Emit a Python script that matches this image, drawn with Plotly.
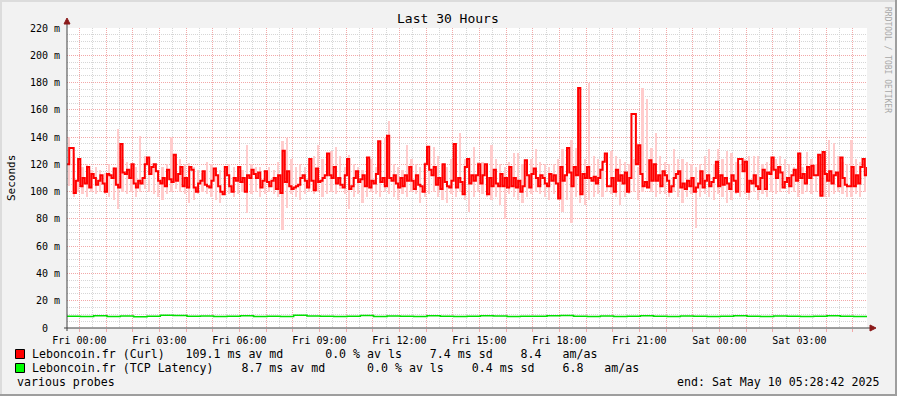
import plotly.graph_objects as go
import pandas as pd

# ---------------- data ----------------
title_text = "Last 30 Hours"
y_axis_title = "Seconds"
range_start = pd.Timestamp("2025-05-08 23:32:00")
range_end = pd.Timestamp("2025-05-10 05:32:00")
median_step_min = 5      # one median value every 5 minutes
smoke_step_min = 10      # one smoke (min/max) bar every 10 minutes
tcp_step_min = 30        # one TCP latency value every 30 minutes

# Leboncoin.fr (Curl) median, ms
curl_median = [
    120,132,132,99,108,124,104,110,106,118,103,113,110,105,108,112,106,100,113,112,
    110,117,105,103,135,114,113,116,110,120,106,103,108,106,110,120,125,113,118,120,
    115,108,106,110,104,116,109,107,127,108,113,118,104,110,103,118,116,103,100,106,108,
    115,105,104,103,108,117,112,104,100,98,118,112,104,100,110,108,118,107,110,100,
    112,110,116,113,110,114,103,108,115,107,104,108,110,102,112,99,130,107,115,104,
    102,103,104,105,110,112,108,103,124,108,101,117,107,108,110,112,128,112,110,118,106,
    110,105,103,112,124,102,104,110,115,107,109,112,104,125,103,108,106,113,137,107,
    110,104,141,110,108,112,106,103,110,104,112,108,118,108,102,112,105,104,100,120,
    133,116,112,118,105,110,102,120,107,104,103,108,135,103,110,107,98,118,124,106,112,
    108,112,120,106,112,120,98,110,104,116,106,104,113,104,110,103,118,104,110,103,
    108,100,104,123,112,103,113,117,110,104,112,110,106,104,113,108,112,106,95,118,
    108,112,132,114,104,118,112,176,98,113,110,118,110,108,111,106,110,116,122,128,104,
    104,110,100,116,108,112,106,114,100,110,157,157,120,134,113,104,107,103,123,108,
    120,108,112,104,115,112,108,100,104,110,113,115,103,106,102,108,104,110,100,103,
    106,115,103,108,112,104,107,110,122,104,112,105,110,106,102,112,108,100,124,124,115,
    122,100,108,106,112,104,102,110,116,102,114,113,125,116,110,118,114,103,107,110,
    104,112,116,108,128,110,113,106,118,110,119,112,112,127,97,129,113,108,115,106,
    112,114,104,125,110,105,104,104,118,104,112,106,118,124,112,118,
]

# smoke band (min / max of the pings), ms, one pair per 10 minutes
smoke_hi = [
    140,128,124,118,120,116,118,116,114,120,118,146,124,122,116,118,141,126,124,118,116,118,120,140,122,124,120,121,118,116,114,
    122,120,118,116,118,120,118,118,116,134,120,118,118,116,118,116,122,137,139,124,118,120,118,120,126,134,124,128,130,133,126,
    118,127,120,118,116,120,124,118,120,139,152,120,118,116,134,124,120,118,122,124,133,126,120,118,124,122,143,124,120,133,122,
    122,118,134,124,120,118,122,128,128,120,118,124,131,122,120,118,120,124,131,126,138,132,143,124,180,126,124,122,124,130,126,
    124,122,120,124,118,176,168,132,143,126,122,120,131,124,124,122,120,118,120,126,131,120,131,124,130,128,122,120,124,126,126,
    126,120,122,118,124,126,124,120,118,122,118,129,124,120,122,124,138,136,126,122,120,138,124,122,120,131,126,122,
]
smoke_lo = [
    104,96,100,98,96,100,98,100,98,96,94,87,100,98,100,96,100,102,100,98,96,94,98,100,102,100,98,92,94,98,100,
    98,96,94,92,100,98,96,98,100,84,98,100,96,98,100,98,96,72,88,98,96,94,98,100,98,100,96,98,100,98,102,
    98,87,96,98,92,96,100,98,96,100,98,96,94,98,96,100,98,92,96,98,100,96,94,92,98,96,100,94,85,96,100,
    98,96,94,96,90,80,98,96,94,92,96,98,100,98,96,94,98,96,85,94,77,96,92,90,94,96,98,96,100,98,96,
    90,96,98,100,94,100,104,100,96,98,98,96,100,96,92,96,98,73,96,98,96,94,98,96,92,94,98,96,98,94,100,
    94,98,96,100,98,100,102,98,100,96,98,100,98,100,98,96,96,98,100,98,96,96,98,96,100,98,102,104,
]

# Leboncoin.fr (TCP Latency), ms, one value per 30 minutes
tcp_latency = [
    8.6,8.4,9.0,8.5,8.8,8.3,8.7,9.4,9.2,8.6,8.8,8.5,8.6,8.9,8.4,8.7,8.5,9.3,8.8,8.6,
    8.4,8.7,9.1,8.5,8.8,8.6,8.5,8.9,8.7,8.4,8.6,9.0,8.8,8.5,8.7,8.6,8.9,9.2,8.6,8.5,
    8.8,8.4,8.7,8.9,8.6,8.5,8.8,8.7,8.4,8.6,8.9,8.7,8.5,8.8,8.6,8.4,8.7,8.9,8.6,8.5,8.7,
]

y_tick_values = [0, 20, 40, 60, 80, 100, 120, 140, 160, 180, 200, 220]
y_tick_labels = ["0\u00a0\u00a0", "20 m", "40 m", "60 m", "80 m", "100 m", "120 m",
                 "140 m", "160 m", "180 m", "200 m", "220 m"]
x_tick_labels = {
    "2025-05-09 00:00": "Fri 00:00", "2025-05-09 03:00": "Fri 03:00",
    "2025-05-09 06:00": "Fri 06:00", "2025-05-09 09:00": "Fri 09:00",
    "2025-05-09 12:00": "Fri 12:00", "2025-05-09 15:00": "Fri 15:00",
    "2025-05-09 18:00": "Fri 18:00", "2025-05-09 21:00": "Fri 21:00",
    "2025-05-10 00:00": "Sat 00:00", "2025-05-10 03:00": "Sat 03:00",
}

legend_rows = [
    ("#FF0000", ["Leboncoin.fr (Curl)", "109.1 ms av md", "0.0 % av ls", "7.4 ms sd", "8.4", "am/as"], [3, 6, 4, 4, 3]),
    ("#00FF00", ["Leboncoin.fr (TCP Latency)", "8.7 ms av md", "0.0 % av ls", "0.4 ms sd", "6.8", "am/as"], [4, 6, 4, 4, 3]),
]
footer_left = "various probes"
footer_right = "end: Sat May 10 05:28:42 2025"
watermark = "RRDTOOL / TOBI OETIKER"

# ---------------- layout constants ----------------
W, H = 897, 396
PL, PR, PT, PB = 67, 867, 28, 328
FONT = "DejaVu Sans Mono"
MAJOR_GRID = "#F2A8A8"
MINOR_GRID = "#D6D6D6"
BG = "#F2F2F2"


def px(x):
    return (x - PL) / (PR - PL)


def py(y):
    return (PB - y) / (PB - PT)


median_x = [range_start + pd.Timedelta(minutes=median_step_min * i) for i in range(len(curl_median))]
smoke_x = [range_start + pd.Timedelta(minutes=smoke_step_min * i + smoke_step_min / 2) for i in range(len(smoke_hi))]
tcp_x = [range_start + pd.Timedelta(minutes=tcp_step_min * i) for i in range(len(tcp_latency))]

fig = go.Figure()

fig.add_trace(go.Bar(
    x=smoke_x, base=smoke_lo, y=[h - l for h, l in zip(smoke_hi, smoke_lo)],
    width=5 * 60 * 1000, marker=dict(color="#FFCCCC", line=dict(width=0)),
    hoverinfo="skip", showlegend=False,
))
fig.add_trace(go.Scatter(
    x=median_x, y=curl_median, mode="lines", line=dict(color="#FF0000", width=2, shape="hv"),
    hoverinfo="skip", showlegend=False,
))
fig.add_trace(go.Scatter(
    x=tcp_x, y=tcp_latency, mode="lines", line=dict(color="#00E000", width=1.5, shape="hv"),
    hoverinfo="skip", showlegend=False,
))

hour_ticks = pd.date_range("2025-05-09 00:00", "2025-05-10 05:00", freq="1h")
hour_text = [x_tick_labels.get(t.strftime("%Y-%m-%d %H:%M"), "") for t in hour_ticks]

fig.update_layout(
    width=W, height=H,
    margin=dict(l=PL, r=W - PR, t=PT, b=H - PB, pad=0),
    paper_bgcolor=BG, plot_bgcolor="#FFFFFF",
    font=dict(family=FONT, size=10, color="#000000"),
    bargap=0, showlegend=False,
    xaxis=dict(
        type="date", range=[range_start, range_end],
        tickmode="array", tickvals=list(hour_ticks), ticktext=hour_text,
        showgrid=True, gridcolor=MAJOR_GRID, griddash="1px,1px", gridwidth=1,
        minor=dict(dtick=30 * 60 * 1000, tick0="2025-05-09 00:00:00", showgrid=True,
                   gridcolor=MINOR_GRID, griddash="1px,1px", gridwidth=1),
        ticks="outside", ticklen=3, tickcolor=MAJOR_GRID, tickwidth=1,
        tickfont=dict(family=FONT, size=10, color="#000000"),
        ticklabelstandoff=0,
        showline=False, zeroline=False, fixedrange=True,
    ),
    yaxis=dict(
        range=[0, 220], tickmode="array", tickvals=y_tick_values, ticktext=y_tick_labels,
        showgrid=True, gridcolor=MAJOR_GRID, griddash="1px,1px", gridwidth=1,
        minor=dict(dtick=5, tick0=0, showgrid=True, gridcolor=MINOR_GRID,
                   griddash="1px,1px", gridwidth=1),
        ticks="", tickfont=dict(family=FONT, size=10, color="#000000"),
        ticklabelstandoff=6,
        showline=False, zeroline=False, fixedrange=True,
    ),
)

shapes = []
AXIS = "#404040"
ARROW = "#8B1A1A"
shapes.append(dict(type="line", xref="paper", yref="paper", x0=px(64), x1=px(873), y0=0, y1=0,
                   line=dict(color=AXIS, width=1), layer="above"))
shapes.append(dict(type="line", xref="paper", yref="paper", x0=0, x1=0, y0=py(331), y1=py(21),
                   line=dict(color=AXIS, width=1), layer="above"))
shapes.append(dict(type="path", xref="paper", yref="paper",
                   path=f"M {px(64)} {py(24)} L {px(70)} {py(24)} L {px(67)} {py(18)} Z",
                   fillcolor=ARROW, line=dict(color=ARROW, width=1), layer="above"))
shapes.append(dict(type="path", xref="paper", yref="paper",
                   path=f"M {px(870)} {py(325)} L {px(870)} {py(331)} L {px(876)} {py(328)} Z",
                   fillcolor=ARROW, line=dict(color=ARROW, width=1), layer="above"))
shapes.append(dict(type="rect", xref="paper", yref="paper", x0=px(0), x1=px(W), y0=py(H), y1=py(H - 2),
                   fillcolor="#9E9E9E", line=dict(width=0)))
shapes.append(dict(type="rect", xref="paper", yref="paper", x0=px(W - 2), x1=px(W), y0=py(H), y1=py(0),
                   fillcolor="#9E9E9E", line=dict(width=0)))
shapes.append(dict(type="rect", xref="paper", yref="paper", x0=px(0), x1=px(W - 2), y0=py(2), y1=py(0),
                   fillcolor="#DCDCDC", line=dict(width=0)))
shapes.append(dict(type="rect", xref="paper", yref="paper", x0=px(0), x1=px(2), y0=py(H - 2), y1=py(0),
                   fillcolor="#DCDCDC", line=dict(width=0)))

annotations = []
annotations.append(dict(text=title_text, xref="paper", yref="paper", x=px(448), y=py(19),
                        xanchor="center", yanchor="middle", showarrow=False,
                        font=dict(family=FONT, size=13, color="#000000")))
annotations.append(dict(text=y_axis_title, xref="paper", yref="paper", x=px(11), y=py(178),
                        xanchor="center", yanchor="middle", showarrow=False, textangle=-90,
                        font=dict(family=FONT, size=11, color="#000000")))
annotations.append(dict(text=watermark, xref="paper", yref="paper", x=px(888), y=py(60),
                        xanchor="center", yanchor="middle", showarrow=False, textangle=90,
                        font=dict(family=FONT, size=8, color="#A8A8A8")))

row_y = [354, 368]
for (color, parts, gaps), yy in zip(legend_rows, row_y):
    s = parts[0]
    for g, p in zip(gaps, parts[1:]):
        s += " " * g + p
    s = s.replace(" ", "\u00a0")
    shapes.append(dict(type="rect", xref="paper", yref="paper", x0=px(15.5), x1=px(24.5),
                       y0=py(yy + 4.5), y1=py(yy - 4.5), fillcolor=color,
                       line=dict(color="#000000", width=1)))
    annotations.append(dict(text=s, xref="paper", yref="paper", x=px(30), y=py(yy),
                            xanchor="left", yanchor="middle", showarrow=False,
                            font=dict(family=FONT, size=11.6, color="#000000")))

annotations.append(dict(text=footer_left.replace(" ", "\u00a0"), xref="paper", yref="paper", x=px(15), y=py(382),
                        xanchor="left", yanchor="middle", showarrow=False,
                        font=dict(family=FONT, size=11.6, color="#000000")))
annotations.append(dict(text=footer_right.replace(" ", "\u00a0"), xref="paper", yref="paper", x=px(881), y=py(382),
                        xanchor="right", yanchor="middle", showarrow=False,
                        font=dict(family=FONT, size=11.6, color="#000000")))

fig.update_layout(shapes=shapes, annotations=annotations)
fig.write_html("out.html")
